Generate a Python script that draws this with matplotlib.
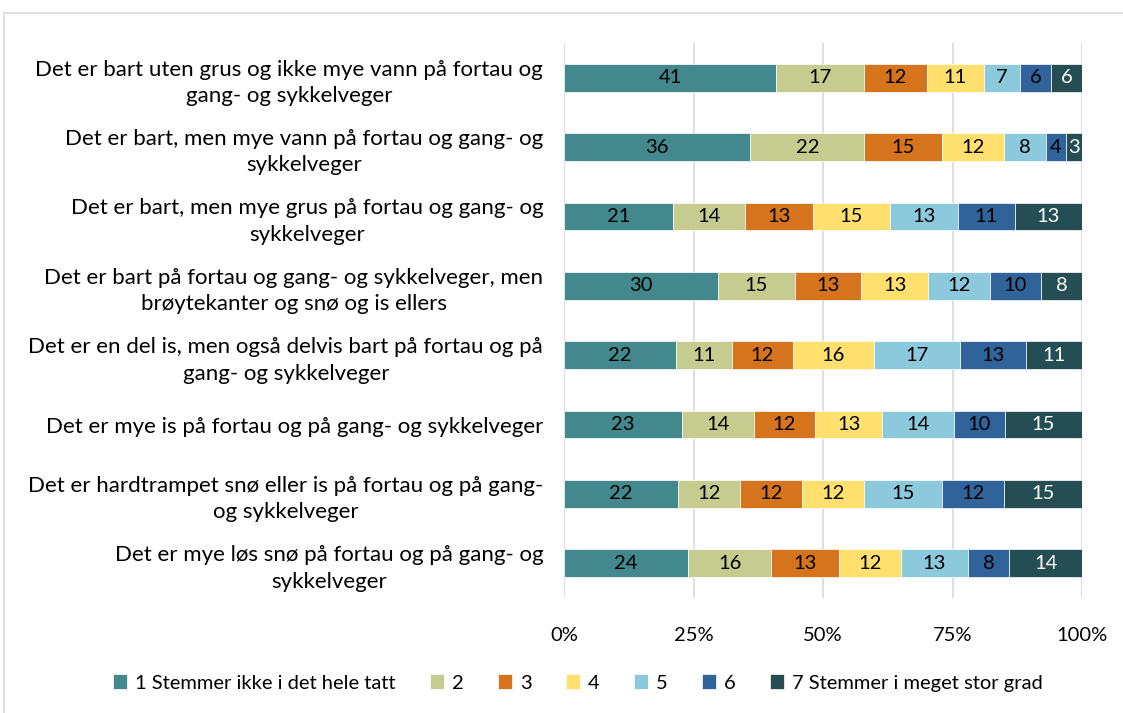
import matplotlib
matplotlib.use('Agg')
import matplotlib.pyplot as plt
import numpy as np

plt.rcParams['font.family'] = ['Lato', 'DejaVu Sans']

kategorier = [
    "Det er bart uten grus og ikke mye vann på fortau og\ngang- og sykkelveger",
    "Det er bart, men mye vann på fortau og gang- og\nsykkelveger",
    "Det er bart, men mye grus på fortau og gang- og\nsykkelveger",
    "Det er bart på fortau og gang- og sykkelveger, men\nbrøytekanter og snø og is ellers",
    "Det er en del is, men også delvis bart på fortau og på\ngang- og sykkelveger",
    "Det er mye is på fortau og på gang- og sykkelveger",
    "Det er hardtrampet snø eller is på fortau og på gang-\nog sykkelveger",
    "Det er mye løs snø på fortau og på gang- og\nsykkelveger",
]

serier = ["1 Stemmer ikke i det hele tatt", "2", "3", "4", "5", "6",
          "7 Stemmer i meget stor grad"]

s1 = [41, 36, 21, 30, 22, 23, 22, 24]
s2 = [17, 22, 14, 15, 11, 14, 12, 16]
s3 = [12, 15, 13, 13, 12, 12, 12, 13]
s4 = [11, 12, 15, 13, 16, 13, 12, 12]
s5 = [7, 8, 13, 12, 17, 14, 15, 13]
s6 = [6, 4, 11, 10, 13, 10, 12, 8]
s7 = [6, 3, 13, 8, 11, 15, 15, 14]

farger = ['#42888C', '#C6CC8F', '#D6741E', '#FFE06E', '#8DC9DC', '#2F6399', '#254E54']
tekstfarge = ['black', 'black', 'black', 'black', 'black', 'black', 'white']

data = np.array([s1, s2, s3, s4, s5, s6, s7], dtype=float)
andel = data / data.sum(axis=0)

fig = plt.figure(figsize=(11.23, 7.13), dpi=100)
ax = fig.add_axes([564 / 1123, 1 - 598 / 713, 518 / 1123, 555 / 713])

y = np.arange(len(kategorier))
venstre = np.zeros(len(kategorier))
for i in range(len(serier)):
    ax.barh(y, andel[i], left=venstre, height=0.4, color=farger[i],
            label=serier[i], zorder=3, edgecolor='white', linewidth=0.5)
    for j in range(len(kategorier)):
        ax.text(venstre[j] + andel[i][j] / 2, y[j], f"{int(data[i][j])}",
                ha='center', va='center', fontsize=14.5, color=tekstfarge[i], zorder=4)
    venstre += andel[i]

ax.set_ylim(len(kategorier) - 0.5, -0.5)
ax.set_xlim(0, 1)
ax.set_yticks(y)
ax.set_yticklabels(kategorier, fontsize=16, ha='right', multialignment='center',
                   linespacing=1.4)
ax.set_xticks([0, 0.25, 0.5, 0.75, 1.0])
ax.set_xticklabels(['0%', '25%', '50%', '75%', '100%'], fontsize=14.5)
ax.tick_params(axis='both', length=0)
ax.tick_params(axis='x', pad=21)
ax.tick_params(axis='y', pad=15)
ax.grid(axis='x', color='#D9D9D9', linewidth=1.2, zorder=0)
for s in ax.spines.values():
    s.set_visible(False)

fig.legend(loc='center', bbox_to_anchor=(578 / 1123, 1 - 683 / 713), ncol=7,
           frameon=False, fontsize=14.5, handlelength=0.7, handleheight=0.7,
           handletextpad=0.4, columnspacing=1.7)

# ramme rundt diagrammet
fig.add_artist(plt.Rectangle((4 / 1123, -0.01), 1.1, 1 - 13 / 713 + 0.01,
                             transform=fig.transFigure, fill=False,
                             edgecolor='#D9D9D9', linewidth=1.2))

fig.savefig('out.png', dpi=100)
